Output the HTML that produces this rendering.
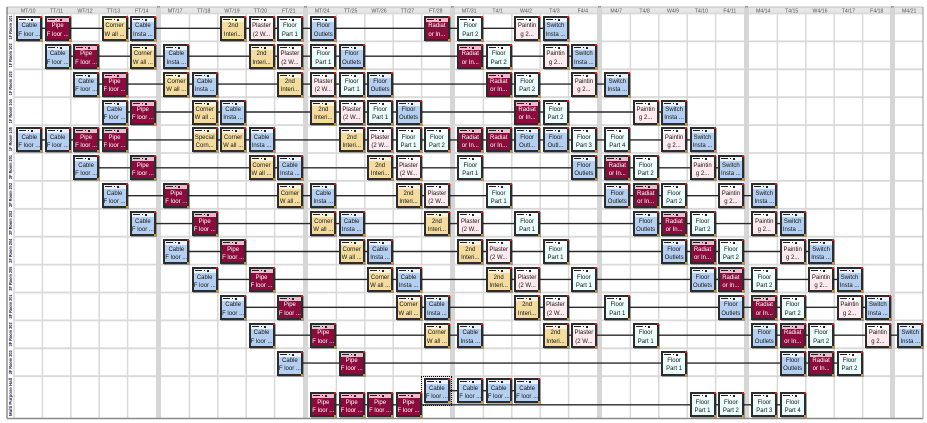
<!DOCTYPE html>
<html><head><meta charset="utf-8">
<style>
html,body{margin:0;padding:0}
body{width:927px;height:423px;overflow:hidden;background:#fff;position:relative;font-family:"Liberation Sans",sans-serif}
svg{position:absolute;left:0;top:0}
.k{position:absolute;width:22px;height:21px;border:2px solid #2c2c2c;box-shadow:1px 1px 0 rgba(0,0,0,.3);--h:#e9f1fc;background:#b5cff0}
.k::before{content:"";position:absolute;left:0;top:0;width:22px;height:4px;background:linear-gradient(#222,#222) 1px 1px/7px 1.3px no-repeat,linear-gradient(#c60,#c60) 4px 1px/2px 1.3px no-repeat,linear-gradient(#222,#222) 10px 1px/1px 1.3px no-repeat,linear-gradient(#222,#222) 13px 1px/2px 2px no-repeat,var(--h)}
.k::after{content:"";position:absolute;right:-2px;top:-2px;width:2px;height:2px;background:#e01818;box-shadow:0 23px 0 #e09000}
.k p{position:absolute;left:0;top:4.7px;width:22px;margin:0;font-size:6px;line-height:8.2px;text-align:center;color:#151515;white-space:nowrap;overflow:hidden}
.B{--h:#e9f1fc;background:#b5cff0}
.M{--h:#f3b8cb;background:#8a0b3c}
.M p{color:#fff}
.Y{--h:#fcf3d8;background:#f3dc9e}
.P{--h:#ffffff;background:#fdeaef}
.C{--h:#ffffff;background:#ebfcfc}
.sel{position:absolute;left:421.4px;top:375.7px;width:31px;height:30px;border:1px dotted #000;box-sizing:border-box}
</style></head><body>
<svg width="927" height="423" viewBox="0 0 927 423">
<rect x="7" y="7" width="916" height="6.5" fill="#e6e6e6"/>
<line x1="7" y1="7" x2="923" y2="7" stroke="#b0b0b0" stroke-width="0.8"/>
<g stroke="#d9d9d9" stroke-width="1.8">
<line x1="7" y1="13.5" x2="923" y2="13.5"/>
<line x1="14" y1="41.4" x2="923" y2="41.4"/>
<line x1="14" y1="69.3" x2="923" y2="69.3"/>
<line x1="14" y1="97.2" x2="923" y2="97.2"/>
<line x1="14" y1="125.1" x2="923" y2="125.1"/>
<line x1="14" y1="153" x2="923" y2="153"/>
<line x1="14" y1="180.9" x2="923" y2="180.9"/>
<line x1="14" y1="208.8" x2="923" y2="208.8"/>
<line x1="14" y1="236.7" x2="923" y2="236.7"/>
<line x1="14" y1="264.6" x2="923" y2="264.6"/>
<line x1="14" y1="292.5" x2="923" y2="292.5"/>
<line x1="14" y1="320.4" x2="923" y2="320.4"/>
<line x1="14" y1="348.3" x2="923" y2="348.3"/>
<line x1="14" y1="376.2" x2="923" y2="376.2"/>
</g>
<g stroke="#d9d9d9" stroke-width="1.5">
<line x1="14" y1="13.5" x2="14" y2="418"/>
<line x1="42.4" y1="13.5" x2="42.4" y2="418"/><line x1="70.8" y1="13.5" x2="70.8" y2="418"/><line x1="99.2" y1="13.5" x2="99.2" y2="418"/><line x1="127.6" y1="13.5" x2="127.6" y2="418"/>
<line x1="189.4" y1="13.5" x2="189.4" y2="418"/><line x1="217.8" y1="13.5" x2="217.8" y2="418"/><line x1="246.2" y1="13.5" x2="246.2" y2="418"/><line x1="274.6" y1="13.5" x2="274.6" y2="418"/>
<line x1="336.4" y1="13.5" x2="336.4" y2="418"/><line x1="364.8" y1="13.5" x2="364.8" y2="418"/><line x1="393.2" y1="13.5" x2="393.2" y2="418"/><line x1="421.6" y1="13.5" x2="421.6" y2="418"/>
<line x1="483.4" y1="13.5" x2="483.4" y2="418"/><line x1="511.8" y1="13.5" x2="511.8" y2="418"/><line x1="540.2" y1="13.5" x2="540.2" y2="418"/><line x1="568.6" y1="13.5" x2="568.6" y2="418"/>
<line x1="630.4" y1="13.5" x2="630.4" y2="418"/><line x1="658.8" y1="13.5" x2="658.8" y2="418"/><line x1="687.2" y1="13.5" x2="687.2" y2="418"/><line x1="715.6" y1="13.5" x2="715.6" y2="418"/>
<line x1="777.4" y1="13.5" x2="777.4" y2="418"/><line x1="805.8" y1="13.5" x2="805.8" y2="418"/><line x1="834.2" y1="13.5" x2="834.2" y2="418"/><line x1="862.6" y1="13.5" x2="862.6" y2="418"/>
</g>
<g fill="#d6d6d6">
<rect x="156" y="7" width="5" height="411"/>
<rect x="303" y="7" width="5" height="411"/>
<rect x="450" y="7" width="5" height="411"/>
<rect x="597" y="7" width="5" height="411"/>
<rect x="744" y="7" width="5" height="411"/>
<rect x="890" y="7" width="5" height="411"/>
</g>
<line x1="7" y1="7" x2="7" y2="418.5" stroke="#555" stroke-width="1"/>
<line x1="923" y1="7" x2="923" y2="418.5" stroke="#999" stroke-width="1"/>
<line x1="7" y1="418.5" x2="923" y2="418.5" stroke="#8a8a8a" stroke-width="1.5"/>
<g font-family="Liberation Sans, sans-serif" font-size="5.2" fill="#555" text-anchor="middle">
<text x="28.2" y="12.4">MT/10</text><text x="56.6" y="12.4">TT/11</text><text x="85" y="12.4">WT/12</text><text x="113.4" y="12.4">TT/13</text><text x="141.8" y="12.4">FT/14</text>
<text x="175.2" y="12.4">MT/17</text><text x="203.6" y="12.4">TT/18</text><text x="232" y="12.4">WT/19</text><text x="260.4" y="12.4">TT/20</text><text x="288.8" y="12.4">FT/21</text>
<text x="322.2" y="12.4">MT/24</text><text x="350.6" y="12.4">TT/25</text><text x="379" y="12.4">WT/26</text><text x="407.4" y="12.4">TT/27</text><text x="435.8" y="12.4">FT/28</text>
<text x="469.2" y="12.4">MT/31</text><text x="497.6" y="12.4">T4/1</text><text x="526" y="12.4">W4/2</text><text x="554.4" y="12.4">T4/3</text><text x="582.8" y="12.4">F4/4</text>
<text x="616.2" y="12.4">M4/7</text><text x="644.6" y="12.4">T4/8</text><text x="673" y="12.4">W4/9</text><text x="701.4" y="12.4">T4/10</text><text x="729.8" y="12.4">F4/11</text>
<text x="763.2" y="12.4">M4/14</text><text x="791.6" y="12.4">T4/15</text><text x="820" y="12.4">W4/16</text><text x="848.4" y="12.4">T4/17</text><text x="876.8" y="12.4">F4/18</text>
<text x="909.2" y="12.4">M4/21</text>
</g>
<g font-family="Liberation Sans, sans-serif" font-size="7" fill="#333" text-anchor="middle">
<text x="158.5" y="11">"</text><text x="305.5" y="11">"</text><text x="452.5" y="11">"</text><text x="599.5" y="11">"</text><text x="746.5" y="11">"</text><text x="892.5" y="11">"</text>
</g>
<g font-family="Liberation Sans, sans-serif" font-size="4.5" font-weight="bold" fill="#1b1b4a" text-anchor="middle">
<text transform="translate(12,27.5) rotate(-90)" textLength="24" lengthAdjust="spacingAndGlyphs">1F Room 101</text>
<text transform="translate(12,55.4) rotate(-90)" textLength="24" lengthAdjust="spacingAndGlyphs">1F Room 102</text>
<text transform="translate(12,83.3) rotate(-90)" textLength="24" lengthAdjust="spacingAndGlyphs">1F Room 103</text>
<text transform="translate(12,111.2) rotate(-90)" textLength="24" lengthAdjust="spacingAndGlyphs">1F Room 104</text>
<text transform="translate(12,139.1) rotate(-90)" textLength="24" lengthAdjust="spacingAndGlyphs">1F Room 105</text>
<text transform="translate(12,167) rotate(-90)" textLength="24" lengthAdjust="spacingAndGlyphs">2F Room 201</text>
<text transform="translate(12,194.9) rotate(-90)" textLength="24" lengthAdjust="spacingAndGlyphs">2F Room 202</text>
<text transform="translate(12,222.8) rotate(-90)" textLength="24" lengthAdjust="spacingAndGlyphs">2F Room 203</text>
<text transform="translate(12,250.7) rotate(-90)" textLength="24" lengthAdjust="spacingAndGlyphs">2F Room 204</text>
<text transform="translate(12,278.6) rotate(-90)" textLength="24" lengthAdjust="spacingAndGlyphs">2F Room 205</text>
<text transform="translate(12,306.5) rotate(-90)" textLength="24" lengthAdjust="spacingAndGlyphs">3F Room 301</text>
<text transform="translate(12,334.4) rotate(-90)" textLength="24" lengthAdjust="spacingAndGlyphs">3F Room 302</text>
<text transform="translate(12,362.3) rotate(-90)" textLength="24" lengthAdjust="spacingAndGlyphs">3F Room 303</text>
<text transform="translate(12,397) rotate(-90)" textLength="38" lengthAdjust="spacingAndGlyphs">Multi Purpose Hall</text>
</g>
<g stroke="#2a2a2a" stroke-width="1.4">
<line x1="29.3" y1="28.3" x2="555.5" y2="28.3"/>
<line x1="57.7" y1="56.2" x2="583.9" y2="56.2"/>
<line x1="86.1" y1="84.1" x2="617.3" y2="84.1"/>
<line x1="114.5" y1="112" x2="674.1" y2="112"/>
<line x1="29.3" y1="139.9" x2="702.5" y2="139.9"/>
<line x1="86.1" y1="167.8" x2="730.9" y2="167.8"/>
<line x1="114.5" y1="195.7" x2="764.3" y2="195.7"/>
<line x1="142.9" y1="223.6" x2="792.7" y2="223.6"/>
<line x1="176.3" y1="251.5" x2="821.1" y2="251.5"/>
<line x1="204.7" y1="279.4" x2="849.5" y2="279.4"/>
<line x1="233.1" y1="307.3" x2="877.9" y2="307.3"/>
<line x1="261.5" y1="335.2" x2="910.3" y2="335.2"/>
<line x1="289.9" y1="363.1" x2="849.5" y2="363.1"/>
<line x1="436.9" y1="390.7" x2="527.1" y2="390.7"/>
<line x1="323.3" y1="404.8" x2="792.7" y2="404.8"/>
</g>
</svg>

<!-- Row 0 -->
<div class="k B" style="left:16.3px;top:15.8px"><p>Cable<br>F loor ...</p></div>
<div class="k M" style="left:44.7px;top:15.8px"><p>Pipe<br>F loor ...</p></div>
<div class="k Y" style="left:101.5px;top:15.8px"><p>Corner<br>W all ...</p></div>
<div class="k B" style="left:129.9px;top:15.8px"><p>Cable<br>Insta ...</p></div>
<div class="k Y" style="left:220.1px;top:15.8px"><p>2nd<br>Interi...</p></div>
<div class="k P" style="left:248.5px;top:15.8px"><p>Plaster<br>(2 W...</p></div>
<div class="k C" style="left:276.9px;top:15.8px"><p>Floor<br>Part 1</p></div>
<div class="k B" style="left:310.3px;top:15.8px"><p>Floor<br>Outlets</p></div>
<div class="k M" style="left:423.9px;top:15.8px"><p>Radiat<br>or In...</p></div>
<div class="k C" style="left:457.3px;top:15.8px"><p>Floor<br>Part 2</p></div>
<div class="k P" style="left:514.1px;top:15.8px"><p>Paintin<br>g 2...</p></div>
<div class="k B" style="left:542.5px;top:15.8px"><p>Switch<br>Insta ...</p></div>
<!-- Row 1 -->
<div class="k B" style="left:44.7px;top:43.7px"><p>Cable<br>F loor ...</p></div>
<div class="k M" style="left:73.1px;top:43.7px"><p>Pipe<br>F loor ...</p></div>
<div class="k Y" style="left:129.9px;top:43.7px"><p>Corner<br>W all ...</p></div>
<div class="k B" style="left:163.3px;top:43.7px"><p>Cable<br>Insta ...</p></div>
<div class="k Y" style="left:248.5px;top:43.7px"><p>2nd<br>Interi...</p></div>
<div class="k P" style="left:276.9px;top:43.7px"><p>Plaster<br>(2 W...</p></div>
<div class="k C" style="left:310.3px;top:43.7px"><p>Floor<br>Part 1</p></div>
<div class="k B" style="left:338.7px;top:43.7px"><p>Floor<br>Outlets</p></div>
<div class="k M" style="left:457.3px;top:43.7px"><p>Radiat<br>or In...</p></div>
<div class="k C" style="left:485.7px;top:43.7px"><p>Floor<br>Part 2</p></div>
<div class="k P" style="left:542.5px;top:43.7px"><p>Paintin<br>g 2...</p></div>
<div class="k B" style="left:570.9px;top:43.7px"><p>Switch<br>Insta ...</p></div>
<!-- Row 2 -->
<div class="k B" style="left:73.1px;top:71.6px"><p>Cable<br>F loor ...</p></div>
<div class="k M" style="left:101.5px;top:71.6px"><p>Pipe<br>F loor ...</p></div>
<div class="k Y" style="left:163.3px;top:71.6px"><p>Corner<br>W all ...</p></div>
<div class="k B" style="left:191.7px;top:71.6px"><p>Cable<br>Insta ...</p></div>
<div class="k Y" style="left:276.9px;top:71.6px"><p>2nd<br>Interi...</p></div>
<div class="k P" style="left:310.3px;top:71.6px"><p>Plaster<br>(2 W...</p></div>
<div class="k C" style="left:338.7px;top:71.6px"><p>Floor<br>Part 1</p></div>
<div class="k B" style="left:367.1px;top:71.6px"><p>Floor<br>Outlets</p></div>
<div class="k M" style="left:485.7px;top:71.6px"><p>Radiat<br>or In...</p></div>
<div class="k C" style="left:514.1px;top:71.6px"><p>Floor<br>Part 2</p></div>
<div class="k P" style="left:570.9px;top:71.6px"><p>Paintin<br>g 2...</p></div>
<div class="k B" style="left:604.3px;top:71.6px"><p>Switch<br>Insta ...</p></div>
<!-- Row 3 -->
<div class="k B" style="left:101.5px;top:99.5px"><p>Cable<br>F loor ...</p></div>
<div class="k M" style="left:129.9px;top:99.5px"><p>Pipe<br>F loor ...</p></div>
<div class="k Y" style="left:191.7px;top:99.5px"><p>Corner<br>W all ...</p></div>
<div class="k B" style="left:220.1px;top:99.5px"><p>Cable<br>Insta ...</p></div>
<div class="k Y" style="left:310.3px;top:99.5px"><p>2nd<br>Interi...</p></div>
<div class="k P" style="left:338.7px;top:99.5px"><p>Plaster<br>(2 W...</p></div>
<div class="k C" style="left:367.1px;top:99.5px"><p>Floor<br>Part 1</p></div>
<div class="k B" style="left:395.5px;top:99.5px"><p>Floor<br>Outlets</p></div>
<div class="k M" style="left:514.1px;top:99.5px"><p>Radiat<br>or In...</p></div>
<div class="k C" style="left:542.5px;top:99.5px"><p>Floor<br>Part 2</p></div>
<div class="k P" style="left:632.7px;top:99.5px"><p>Paintin<br>g 2...</p></div>
<div class="k B" style="left:661.1px;top:99.5px"><p>Switch<br>Insta ...</p></div>
<!-- Row 4 -->
<div class="k B" style="left:16.3px;top:127.4px"><p>Cable<br>F loor ...</p></div>
<div class="k B" style="left:44.7px;top:127.4px"><p>Cable<br>F loor ...</p></div>
<div class="k M" style="left:73.1px;top:127.4px"><p>Pipe<br>F loor ...</p></div>
<div class="k M" style="left:101.5px;top:127.4px"><p>Pipe<br>F loor ...</p></div>
<div class="k Y" style="left:191.7px;top:127.4px"><p>Special<br>Corn...</p></div>
<div class="k Y" style="left:220.1px;top:127.4px"><p>Corner<br>W all ...</p></div>
<div class="k B" style="left:248.5px;top:127.4px"><p>Cable<br>Insta ...</p></div>
<div class="k Y" style="left:338.7px;top:127.4px"><p>2nd<br>Interi...</p></div>
<div class="k P" style="left:367.1px;top:127.4px"><p>Plaster<br>(2 W...</p></div>
<div class="k C" style="left:395.5px;top:127.4px"><p>Floor<br>Part 1</p></div>
<div class="k C" style="left:423.9px;top:127.4px"><p>Floor<br>Part 2</p></div>
<div class="k M" style="left:457.3px;top:127.4px"><p>Radiat<br>or In...</p></div>
<div class="k M" style="left:485.7px;top:127.4px"><p>Radiat<br>or In...</p></div>
<div class="k B" style="left:514.1px;top:127.4px"><p>Floor<br>Outl...</p></div>
<div class="k B" style="left:542.5px;top:127.4px"><p>Floor<br>Outl...</p></div>
<div class="k C" style="left:570.9px;top:127.4px"><p>Floor<br>Part 3</p></div>
<div class="k C" style="left:604.3px;top:127.4px"><p>Floor<br>Part 4</p></div>
<div class="k P" style="left:661.1px;top:127.4px"><p>Paintin<br>g 2...</p></div>
<div class="k B" style="left:689.5px;top:127.4px"><p>Switch<br>Insta ...</p></div>
<!-- Row 5 -->
<div class="k B" style="left:73.1px;top:155.3px"><p>Cable<br>F loor ...</p></div>
<div class="k M" style="left:129.9px;top:155.3px"><p>Pipe<br>F loor ...</p></div>
<div class="k Y" style="left:248.5px;top:155.3px"><p>Corner<br>W all ...</p></div>
<div class="k B" style="left:276.9px;top:155.3px"><p>Cable<br>Insta ...</p></div>
<div class="k Y" style="left:367.1px;top:155.3px"><p>2nd<br>Interi...</p></div>
<div class="k P" style="left:395.5px;top:155.3px"><p>Plaster<br>(2 W...</p></div>
<div class="k C" style="left:457.3px;top:155.3px"><p>Floor<br>Part 1</p></div>
<div class="k B" style="left:570.9px;top:155.3px"><p>Floor<br>Outlets</p></div>
<div class="k M" style="left:604.3px;top:155.3px"><p>Radiat<br>or In...</p></div>
<div class="k C" style="left:632.7px;top:155.3px"><p>Floor<br>Part 2</p></div>
<div class="k P" style="left:689.5px;top:155.3px"><p>Paintin<br>g 2...</p></div>
<div class="k B" style="left:717.9px;top:155.3px"><p>Switch<br>Insta ...</p></div>
<!-- Row 6 -->
<div class="k B" style="left:101.5px;top:183.2px"><p>Cable<br>F loor ...</p></div>
<div class="k M" style="left:163.3px;top:183.2px"><p>Pipe<br>F loor ...</p></div>
<div class="k Y" style="left:276.9px;top:183.2px"><p>Corner<br>W all ...</p></div>
<div class="k B" style="left:310.3px;top:183.2px"><p>Cable<br>Insta ...</p></div>
<div class="k Y" style="left:395.5px;top:183.2px"><p>2nd<br>Interi...</p></div>
<div class="k P" style="left:423.9px;top:183.2px"><p>Plaster<br>(2 W...</p></div>
<div class="k C" style="left:485.7px;top:183.2px"><p>Floor<br>Part 1</p></div>
<div class="k B" style="left:604.3px;top:183.2px"><p>Floor<br>Outlets</p></div>
<div class="k M" style="left:632.7px;top:183.2px"><p>Radiat<br>or In...</p></div>
<div class="k C" style="left:661.1px;top:183.2px"><p>Floor<br>Part 2</p></div>
<div class="k P" style="left:717.9px;top:183.2px"><p>Paintin<br>g 2...</p></div>
<div class="k B" style="left:751.3px;top:183.2px"><p>Switch<br>Insta ...</p></div>
<!-- Row 7 -->
<div class="k B" style="left:129.9px;top:211.1px"><p>Cable<br>F loor ...</p></div>
<div class="k M" style="left:191.7px;top:211.1px"><p>Pipe<br>F loor ...</p></div>
<div class="k Y" style="left:310.3px;top:211.1px"><p>Corner<br>W all ...</p></div>
<div class="k B" style="left:338.7px;top:211.1px"><p>Cable<br>Insta ...</p></div>
<div class="k Y" style="left:423.9px;top:211.1px"><p>2nd<br>Interi...</p></div>
<div class="k P" style="left:457.3px;top:211.1px"><p>Plaster<br>(2 W...</p></div>
<div class="k C" style="left:514.1px;top:211.1px"><p>Floor<br>Part 1</p></div>
<div class="k B" style="left:632.7px;top:211.1px"><p>Floor<br>Outlets</p></div>
<div class="k M" style="left:661.1px;top:211.1px"><p>Radiat<br>or In...</p></div>
<div class="k C" style="left:689.5px;top:211.1px"><p>Floor<br>Part 2</p></div>
<div class="k P" style="left:751.3px;top:211.1px"><p>Paintin<br>g 2...</p></div>
<div class="k B" style="left:779.7px;top:211.1px"><p>Switch<br>Insta ...</p></div>
<!-- Row 8 -->
<div class="k B" style="left:163.3px;top:239px"><p>Cable<br>F loor ...</p></div>
<div class="k M" style="left:220.1px;top:239px"><p>Pipe<br>F loor ...</p></div>
<div class="k Y" style="left:338.7px;top:239px"><p>Corner<br>W all ...</p></div>
<div class="k B" style="left:367.1px;top:239px"><p>Cable<br>Insta ...</p></div>
<div class="k Y" style="left:457.3px;top:239px"><p>2nd<br>Interi...</p></div>
<div class="k P" style="left:485.7px;top:239px"><p>Plaster<br>(2 W...</p></div>
<div class="k C" style="left:542.5px;top:239px"><p>Floor<br>Part 1</p></div>
<div class="k B" style="left:661.1px;top:239px"><p>Floor<br>Outlets</p></div>
<div class="k M" style="left:689.5px;top:239px"><p>Radiat<br>or In...</p></div>
<div class="k C" style="left:717.9px;top:239px"><p>Floor<br>Part 2</p></div>
<div class="k P" style="left:779.7px;top:239px"><p>Paintin<br>g 2...</p></div>
<div class="k B" style="left:808.1px;top:239px"><p>Switch<br>Insta ...</p></div>
<!-- Row 9 -->
<div class="k B" style="left:191.7px;top:266.9px"><p>Cable<br>F loor ...</p></div>
<div class="k M" style="left:248.5px;top:266.9px"><p>Pipe<br>F loor ...</p></div>
<div class="k Y" style="left:367.1px;top:266.9px"><p>Corner<br>W all ...</p></div>
<div class="k B" style="left:395.5px;top:266.9px"><p>Cable<br>Insta ...</p></div>
<div class="k Y" style="left:485.7px;top:266.9px"><p>2nd<br>Interi...</p></div>
<div class="k P" style="left:514.1px;top:266.9px"><p>Plaster<br>(2 W...</p></div>
<div class="k C" style="left:570.9px;top:266.9px"><p>Floor<br>Part 1</p></div>
<div class="k B" style="left:689.5px;top:266.9px"><p>Floor<br>Outlets</p></div>
<div class="k M" style="left:717.9px;top:266.9px"><p>Radiat<br>or In...</p></div>
<div class="k C" style="left:751.3px;top:266.9px"><p>Floor<br>Part 2</p></div>
<div class="k P" style="left:808.1px;top:266.9px"><p>Paintin<br>g 2...</p></div>
<div class="k B" style="left:836.5px;top:266.9px"><p>Switch<br>Insta ...</p></div>
<!-- Row 10 -->
<div class="k B" style="left:220.1px;top:294.8px"><p>Cable<br>F loor ...</p></div>
<div class="k M" style="left:276.9px;top:294.8px"><p>Pipe<br>F loor ...</p></div>
<div class="k Y" style="left:395.5px;top:294.8px"><p>Corner<br>W all ...</p></div>
<div class="k B" style="left:423.9px;top:294.8px"><p>Cable<br>Insta ...</p></div>
<div class="k Y" style="left:514.1px;top:294.8px"><p>2nd<br>Interi...</p></div>
<div class="k P" style="left:542.5px;top:294.8px"><p>Plaster<br>(2 W...</p></div>
<div class="k C" style="left:604.3px;top:294.8px"><p>Floor<br>Part 1</p></div>
<div class="k B" style="left:717.9px;top:294.8px"><p>Floor<br>Outlets</p></div>
<div class="k M" style="left:751.3px;top:294.8px"><p>Radiat<br>or In...</p></div>
<div class="k C" style="left:779.7px;top:294.8px"><p>Floor<br>Part 2</p></div>
<div class="k P" style="left:836.5px;top:294.8px"><p>Paintin<br>g 2...</p></div>
<div class="k B" style="left:864.9px;top:294.8px"><p>Switch<br>Insta ...</p></div>
<!-- Row 11 -->
<div class="k B" style="left:248.5px;top:322.7px"><p>Cable<br>F loor ...</p></div>
<div class="k M" style="left:310.3px;top:322.7px"><p>Pipe<br>F loor ...</p></div>
<div class="k Y" style="left:423.9px;top:322.7px"><p>Corner<br>W all ...</p></div>
<div class="k B" style="left:457.3px;top:322.7px"><p>Cable<br>Insta ...</p></div>
<div class="k Y" style="left:542.5px;top:322.7px"><p>2nd<br>Interi...</p></div>
<div class="k P" style="left:570.9px;top:322.7px"><p>Plaster<br>(2 W...</p></div>
<div class="k C" style="left:632.7px;top:322.7px"><p>Floor<br>Part 1</p></div>
<div class="k B" style="left:751.3px;top:322.7px"><p>Floor<br>Outlets</p></div>
<div class="k M" style="left:779.7px;top:322.7px"><p>Radiat<br>or In...</p></div>
<div class="k C" style="left:808.1px;top:322.7px"><p>Floor<br>Part 2</p></div>
<div class="k P" style="left:864.9px;top:322.7px"><p>Paintin<br>g 2...</p></div>
<div class="k B" style="left:897.3px;top:322.7px"><p>Switch<br>Insta ...</p></div>
<!-- Row 12 -->
<div class="k B" style="left:276.9px;top:350.6px"><p>Cable<br>F loor ...</p></div>
<div class="k M" style="left:338.7px;top:350.6px"><p>Pipe<br>F loor ...</p></div>
<div class="k C" style="left:661.1px;top:350.6px"><p>Floor<br>Part 1</p></div>
<div class="k B" style="left:779.7px;top:350.6px"><p>Floor<br>Outlets</p></div>
<div class="k M" style="left:808.1px;top:350.6px"><p>Radiat<br>or In...</p></div>
<div class="k C" style="left:836.5px;top:350.6px"><p>Floor<br>Part 2</p></div>
<!-- Row 13 upper -->
<div class="k B" style="left:423.9px;top:378.2px"><p>Cable<br>F loor ...</p></div>
<div class="sel"></div>
<div class="k B" style="left:457.3px;top:378.2px"><p>Cable<br>F loor ...</p></div>
<div class="k B" style="left:485.7px;top:378.2px"><p>Cable<br>F loor ...</p></div>
<div class="k B" style="left:514.1px;top:378.2px"><p>Cable<br>F loor ...</p></div>
<!-- Row 13 lower -->
<div class="k M" style="left:310.3px;top:392.3px"><p>Pipe<br>F loor ...</p></div>
<div class="k M" style="left:338.7px;top:392.3px"><p>Pipe<br>F loor ...</p></div>
<div class="k M" style="left:367.1px;top:392.3px"><p>Pipe<br>F loor ...</p></div>
<div class="k M" style="left:395.5px;top:392.3px"><p>Pipe<br>F loor ...</p></div>
<div class="k C" style="left:689.5px;top:392.3px"><p>Floor<br>Part 1</p></div>
<div class="k C" style="left:717.9px;top:392.3px"><p>Floor<br>Part 2</p></div>
<div class="k C" style="left:751.3px;top:392.3px"><p>Floor<br>Part 3</p></div>
<div class="k C" style="left:779.7px;top:392.3px"><p>Floor<br>Part 4</p></div>
</body></html>
